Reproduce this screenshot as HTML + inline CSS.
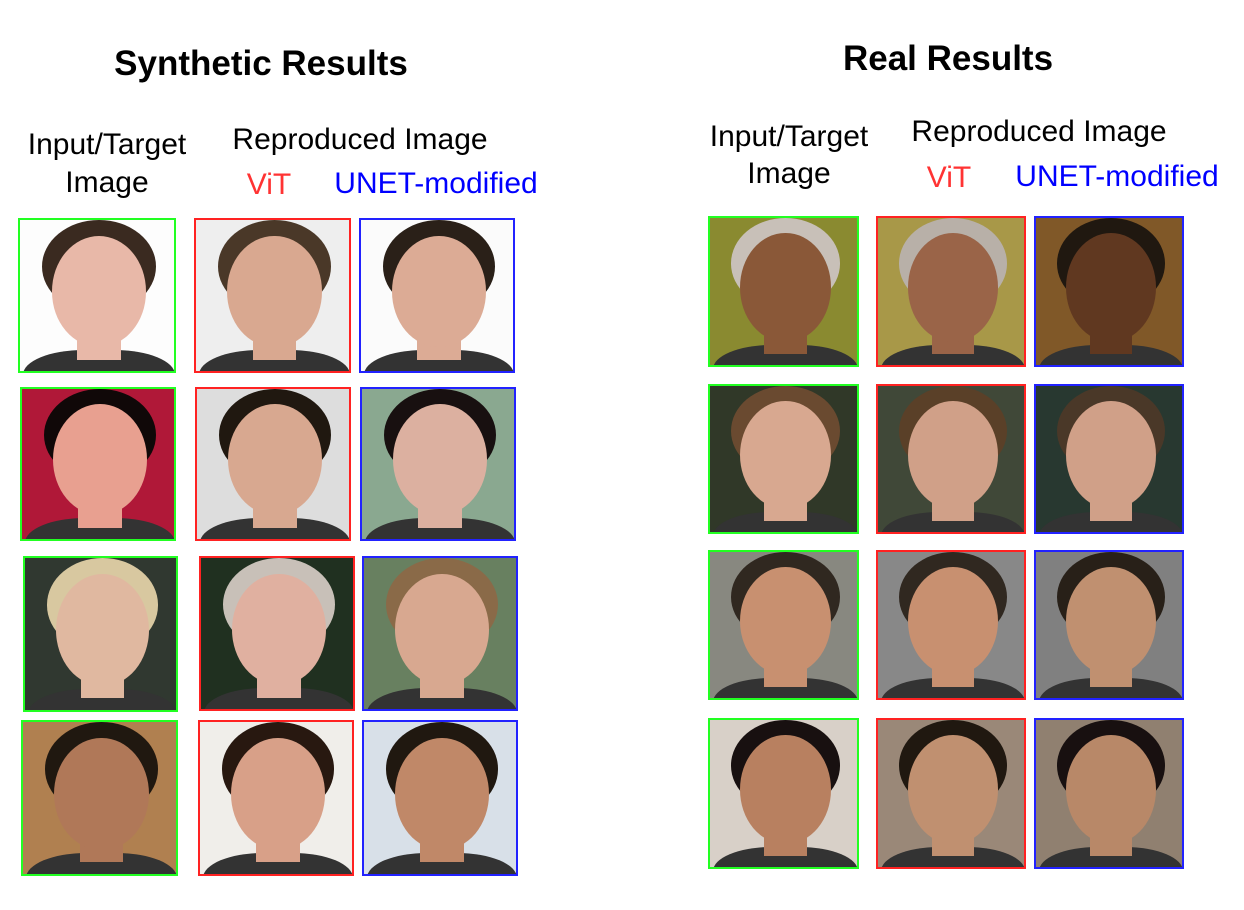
<!DOCTYPE html>
<html><head><meta charset="utf-8"><style>
body{margin:0;width:1244px;height:910px;background:#fff;position:relative;overflow:hidden;font-family:"Liberation Sans",sans-serif}
.t{position:absolute;white-space:nowrap;transform:translateX(-50%);color:#000}
.f{position:absolute;box-sizing:border-box;border:2px solid;overflow:hidden}
.f div{position:absolute}
</style></head><body>
<div class="t" style="left:261px;top:44px;font-size:35px;font-weight:bold">Synthetic Results</div>
<div class="t" style="left:948px;top:39px;font-size:35px;font-weight:bold">Real Results</div>
<div class="t" style="left:107px;top:126px;font-size:30px;text-align:center;line-height:38px">Input/Target<br>Image</div>
<div class="t" style="left:360px;top:123px;font-size:30px">Reproduced Image</div>
<div class="t" style="left:269px;top:168px;font-size:30px;color:#f33">ViT</div>
<div class="t" style="left:436px;top:167px;font-size:30px;color:#00f">UNET-modified</div>
<div class="t" style="left:789px;top:118px;font-size:30px;text-align:center;line-height:37px">Input/Target<br>Image</div>
<div class="t" style="left:1039px;top:115px;font-size:30px">Reproduced Image</div>
<div class="t" style="left:949px;top:161px;font-size:30px;color:#f33">ViT</div>
<div class="t" style="left:1117px;top:160px;font-size:30px;color:#00f">UNET-modified</div>
<div id="grid"></div>
<script>
const frames=[
[18,218,158,155,'#2f2','#fdfdfd','#e8b8a8','#3a2a20'],
[194,218,157,155,'#f22','#eee','#d9a890','#4a3828'],
[359,218,156,155,'#22f','#fbfbfb','#dcab95','#2a2018'],
[20,387,156,154,'#2f2','#b01838','#e8a090','#100808'],
[195,387,156,154,'#f22','#ddd','#d8a890','#201810'],
[360,387,156,154,'#22f','#8aa890','#dcb0a0','#181010'],
[23,556,155,156,'#2f2','#303830','#e0b8a0','#d8c8a0'],
[199,556,156,155,'#f22','#203020','#e0b0a0','#c8c0b8'],
[362,556,156,155,'#22f','#688060','#d8a890','#8a6a48'],
[21,720,157,156,'#2f2','#b08050','#b07858','#201810'],
[198,720,156,156,'#f22','#f0eeea','#d8a088','#281810'],
[362,720,156,156,'#22f','#d8e0e8','#c08868','#201810'],
[708,216,151,151,'#2f2','#8a8a30','#8a5838','#c8c0b8'],
[876,216,150,151,'#f22','#a89848','#9a6448','#b8b0a8'],
[1034,216,150,151,'#22f','#805828','#603820','#201810'],
[708,384,151,150,'#2f2','#303828','#d8a890','#6a4a30'],
[876,384,150,150,'#f22','#404838','#d0a088','#5a4028'],
[1034,384,150,150,'#22f','#283830','#d0a088','#4a3828'],
[708,550,151,150,'#2f2','#888880','#c89070','#302820'],
[876,550,150,150,'#f22','#888888','#c89070','#302820'],
[1034,550,150,150,'#22f','#808080','#c09070','#282018'],
[708,718,151,151,'#2f2','#d8d0c8','#b88060','#181010'],
[876,718,150,151,'#f22','#9a8878','#c09070','#201810'],
[1034,718,150,151,'#22f','#908070','#b88868','#181010']];
const g=document.getElementById('grid');
frames.forEach((p,i)=>{
 const [x,y,w,h,b,bg,skin,hair]=p;
 const d=document.createElement('div');d.className='f';
 
 
 d.style.cssText=`left:${x}px;top:${y}px;width:${w}px;height:${h}px;border-color:${b};background:${bg}`;
 d.innerHTML=`<div style="left:${w*0.14}px;top:${h*0.0}px;width:${w*0.72}px;height:${h*0.6}px;border-radius:50%;background:${hair}"></div>
<div style="left:${w*0.02}px;top:${h*0.84}px;width:${w*0.96}px;height:${h*0.4}px;border-radius:40% 40% 0 0;background:#333"></div>
<div style="left:${w*0.36}px;top:${h*0.6}px;width:${w*0.28}px;height:${h*0.3}px;background:${skin}"></div>
<div style="left:${w*0.2}px;top:${h*0.1}px;width:${w*0.6}px;height:${h*0.72}px;border-radius:50%;background:${skin}"></div>`;
 g.appendChild(d);
});
</script>
</body></html>
